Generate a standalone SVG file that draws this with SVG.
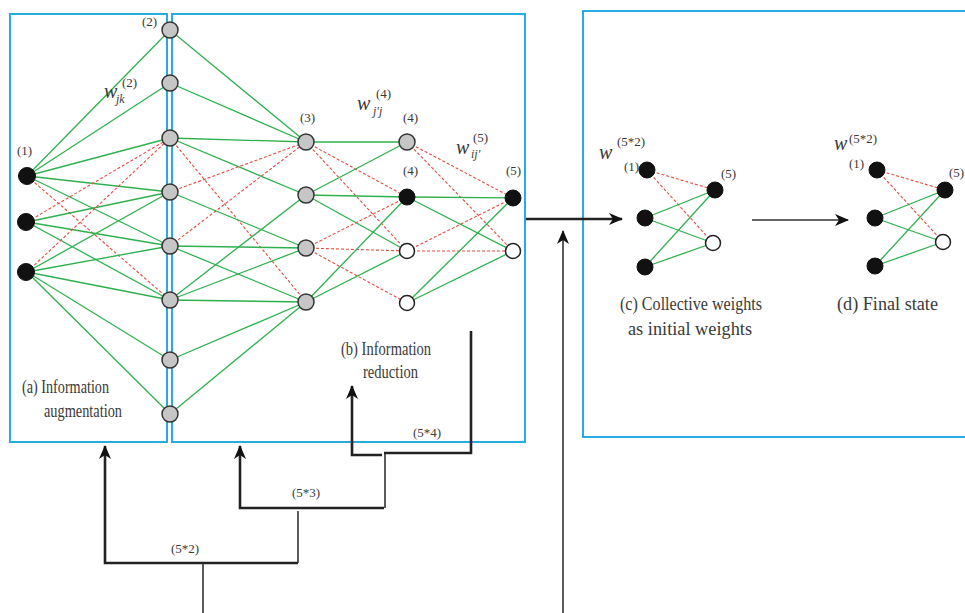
<svg xmlns="http://www.w3.org/2000/svg" width="965" height="613" viewBox="0 0 965 613">
<style>
.box{fill:none;stroke:#29abe2;stroke-width:2}
.g{stroke:#2fb04f;stroke-width:1.3;fill:none}
.r{stroke:#e84a3c;stroke-width:1.1;stroke-dasharray:3 2;fill:none}
.gray{fill:#c6c6c6;stroke:#333;stroke-width:1.5}
.blk{fill:#111;stroke:#111;stroke-width:1}
.wht{fill:#fff;stroke:#222;stroke-width:1.5}
text{font-family:'Liberation Serif','Times New Roman',serif;fill:#3a3a3a}
.lbl{font-size:18px}
.sm{font-size:13px}
.w{font-size:20px;font-style:italic}
.sub{font-size:12px;font-style:italic}
.thick{stroke:#222;stroke-width:2.6;fill:none}
.thin{stroke:#333;stroke-width:1.6;fill:none}
</style>
<defs>
<marker id="ah" viewBox="0 0 14 12" refX="13" refY="6" markerWidth="14" markerHeight="12" markerUnits="userSpaceOnUse" orient="auto">
<path d="M0,0 L14,6 L0,12 L4,6 z" fill="#111"/>
</marker>
</defs>
<rect width="965" height="613" fill="#fff"/>

<g id="boxes">
<rect id="box-a" class="box" x="10" y="14" width="157" height="428"/>
<rect id="box-b" class="box" x="172" y="14" width="353" height="428"/>
<rect id="box-c" class="box" x="583" y="11" width="400" height="426"/>
</g>

<g id="edges">
<line class="g" x1="27" y1="176" x2="170" y2="30"/>
<line class="g" x1="27" y1="176" x2="170" y2="83"/>
<line class="g" x1="27" y1="176" x2="170" y2="138"/>
<line class="g" x1="27" y1="176" x2="170" y2="192"/>
<line class="g" x1="27" y1="176" x2="170" y2="246"/>
<line class="r" x1="27" y1="176" x2="170" y2="300"/>
<line class="r" x1="27" y1="222" x2="170" y2="138"/>
<line class="g" x1="27" y1="222" x2="170" y2="192"/>
<line class="g" x1="27" y1="222" x2="170" y2="246"/>
<line class="g" x1="27" y1="222" x2="170" y2="300"/>
<line class="r" x1="27" y1="272" x2="170" y2="138"/>
<line class="g" x1="27" y1="272" x2="170" y2="192"/>
<line class="g" x1="27" y1="272" x2="170" y2="246"/>
<line class="g" x1="27" y1="272" x2="170" y2="300"/>
<line class="g" x1="27" y1="272" x2="170" y2="360"/>
<line class="g" x1="27" y1="272" x2="170" y2="414"/>
<line class="g" x1="170" y1="30" x2="306" y2="142"/>
<line class="g" x1="170" y1="83" x2="306" y2="142"/>
<line class="g" x1="170" y1="138" x2="306" y2="142"/>
<line class="g" x1="170" y1="138" x2="306" y2="195"/>
<line class="r" x1="170" y1="138" x2="306" y2="302"/>
<line class="r" x1="170" y1="192" x2="306" y2="142"/>
<line class="g" x1="170" y1="192" x2="306" y2="248"/>
<line class="r" x1="170" y1="246" x2="306" y2="142"/>
<line class="g" x1="170" y1="246" x2="306" y2="248"/>
<line class="g" x1="170" y1="246" x2="306" y2="302"/>
<line class="g" x1="170" y1="300" x2="306" y2="195"/>
<line class="g" x1="170" y1="300" x2="306" y2="248"/>
<line class="g" x1="170" y1="300" x2="306" y2="302"/>
<line class="g" x1="170" y1="360" x2="306" y2="302"/>
<line class="g" x1="170" y1="414" x2="306" y2="302"/>
<line class="g" x1="306" y1="142" x2="407" y2="142"/>
<line class="r" x1="306" y1="142" x2="407" y2="197"/>
<line class="r" x1="306" y1="142" x2="407" y2="251"/>
<line class="g" x1="306" y1="195" x2="407" y2="142"/>
<line class="g" x1="306" y1="195" x2="407" y2="197"/>
<line class="g" x1="306" y1="195" x2="407" y2="251"/>
<line class="r" x1="306" y1="248" x2="407" y2="197"/>
<line class="r" x1="306" y1="248" x2="407" y2="251"/>
<line class="r" x1="306" y1="248" x2="407" y2="303"/>
<line class="g" x1="306" y1="302" x2="407" y2="197"/>
<line class="g" x1="306" y1="302" x2="407" y2="251"/>
<line class="r" x1="407" y1="142" x2="513" y2="198"/>
<line class="r" x1="407" y1="142" x2="513" y2="251"/>
<line class="g" x1="407" y1="197" x2="513" y2="198"/>
<line class="g" x1="407" y1="197" x2="513" y2="251"/>
<line class="r" x1="407" y1="251" x2="513" y2="198"/>
<line class="r" x1="407" y1="251" x2="513" y2="251"/>
<line class="g" x1="407" y1="303" x2="513" y2="198"/>
<line class="g" x1="407" y1="303" x2="513" y2="251"/>
<line class="r" x1="647" y1="170" x2="715" y2="190"/>
<line class="r" x1="647" y1="170" x2="713" y2="243"/>
<line class="g" x1="645" y1="218" x2="715" y2="190"/>
<line class="g" x1="645" y1="218" x2="713" y2="243"/>
<line class="g" x1="645" y1="267" x2="715" y2="190"/>
<line class="g" x1="645" y1="267" x2="713" y2="243"/>
<line class="r" x1="877" y1="170" x2="945" y2="190"/>
<line class="r" x1="877" y1="170" x2="943" y2="242"/>
<line class="g" x1="875" y1="218" x2="945" y2="190"/>
<line class="g" x1="875" y1="218" x2="943" y2="242"/>
<line class="g" x1="875" y1="266" x2="945" y2="190"/>
<line class="g" x1="875" y1="266" x2="943" y2="242"/>
</g>

<g id="layer1">
<circle class="blk" cx="27" cy="176" r="8.5"/>
<circle class="blk" cx="26" cy="222" r="8.5"/>
<circle class="blk" cx="26" cy="272" r="8.5"/>
</g>
<g id="layer2">
<circle class="gray" cx="170" cy="30" r="8"/>
<circle class="gray" cx="170" cy="83" r="8"/>
<circle class="gray" cx="170" cy="138" r="8"/>
<circle class="gray" cx="170" cy="192" r="8"/>
<circle class="gray" cx="170" cy="246" r="8"/>
<circle class="gray" cx="170" cy="300" r="8"/>
<circle class="gray" cx="170" cy="360" r="8"/>
<circle class="gray" cx="170" cy="414" r="8"/>
</g>
<g id="layer3">
<circle class="gray" cx="306" cy="142" r="8"/>
<circle class="gray" cx="306" cy="195" r="8"/>
<circle class="gray" cx="306" cy="248" r="8"/>
<circle class="gray" cx="306" cy="302" r="8"/>
</g>
<g id="layer4">
<circle class="gray" cx="407" cy="142" r="8"/>
<circle class="blk" cx="407" cy="197" r="8"/>
<circle class="wht" cx="407" cy="251" r="7.5"/>
<circle class="wht" cx="407" cy="303" r="7.5"/>
</g>
<g id="layer5">
<circle class="blk" cx="513" cy="198" r="8"/>
<circle class="wht" cx="513" cy="251" r="7.5"/>
</g>
<g id="panel-c-nodes">
<circle class="blk" cx="647" cy="170" r="8"/>
<circle class="blk" cx="645" cy="218" r="8"/>
<circle class="blk" cx="645" cy="267" r="8"/>
<circle class="blk" cx="715" cy="190" r="8"/>
<circle class="wht" cx="713" cy="243" r="7.5"/>
</g>
<g id="panel-d-nodes">
<circle class="blk" cx="877" cy="170" r="8"/>
<circle class="blk" cx="875" cy="218" r="8"/>
<circle class="blk" cx="875" cy="266" r="8"/>
<circle class="blk" cx="945" cy="190" r="8"/>
<circle class="wht" cx="943" cy="242" r="7.5"/>
</g>

<g id="labels">
<text class="sm" x="17" y="155">(1)</text>
<text class="sm" x="142" y="26">(2)</text>
<text class="sm" x="300" y="122">(3)</text>
<text class="sm" x="403" y="122">(4)</text>
<text class="sm" x="403" y="175">(4)</text>
<text class="sm" x="506" y="175">(5)</text>
<text class="w" x="104" y="98">w</text>
<text class="sm" x="122" y="87">(2)</text>
<text class="sub" x="116" y="103">jk</text>
<text class="w" x="357" y="110">w</text>
<text class="sm" x="376" y="98">(4)</text>
<text class="sub" x="373" y="115">j'j</text>
<text class="w" x="456" y="154">w</text>
<text class="sm" x="473" y="142">(5)</text>
<text class="sub" x="471" y="158">ij'</text>
<text class="lbl" x="22" y="393" textLength="87" lengthAdjust="spacingAndGlyphs">(a) Information</text>
<text class="lbl" x="44" y="417" textLength="78" lengthAdjust="spacingAndGlyphs">augmentation</text>
<text class="lbl" x="341" y="355" textLength="90" lengthAdjust="spacingAndGlyphs">(b) Information</text>
<text class="lbl" x="363" y="378" textLength="55" lengthAdjust="spacingAndGlyphs">reduction</text>
<text class="w" x="599" y="159">w</text>
<text class="sm" x="617" y="146">(5*2)</text>
<text class="sm" x="624" y="171">(1)</text>
<text class="sm" x="721" y="178">(5)</text>
<text class="lbl" x="620" y="310" textLength="142" lengthAdjust="spacingAndGlyphs">(c) Collective weights</text>
<text class="lbl" x="628" y="335" textLength="124" lengthAdjust="spacingAndGlyphs">as initial weights</text>
<text class="w" x="834" y="150">w</text>
<text class="sm" x="849" y="143">(5*2)</text>
<text class="sm" x="849" y="168">(1)</text>
<text class="sm" x="949" y="177">(5)</text>
<text class="lbl" x="837" y="310" textLength="101" lengthAdjust="spacingAndGlyphs">(d) Final state</text>
<text class="sm" x="171" y="553">(5*2)</text>
<text class="sm" x="292" y="497">(5*3)</text>
<text class="sm" x="413" y="437">(5*4)</text>
</g>

<g id="connectors">
<line class="thick" x1="526" y1="219" x2="622" y2="219" marker-end="url(#ah)"/>
<line class="thin" x1="752" y1="220" x2="848" y2="220" marker-end="url(#ah)"/>
<line class="thin" x1="563" y1="613" x2="563" y2="231" marker-end="url(#ah)"/>
<polyline class="thick" points="298,563 105,563 105,446" marker-end="url(#ah)"/>
<line class="thin" x1="298" y1="563" x2="298" y2="511"/>
<line class="thin" x1="203" y1="563" x2="203" y2="613"/>
<polyline class="thick" points="384,508 240,508 240,446" marker-end="url(#ah)"/>
<line class="thin" x1="385" y1="508" x2="385" y2="453"/>
<polyline class="thick" points="382,455 352,455 352,386" marker-end="url(#ah)"/>
<polyline class="thick" points="384,453 471,453 471,331"/>
</g>
</svg>
